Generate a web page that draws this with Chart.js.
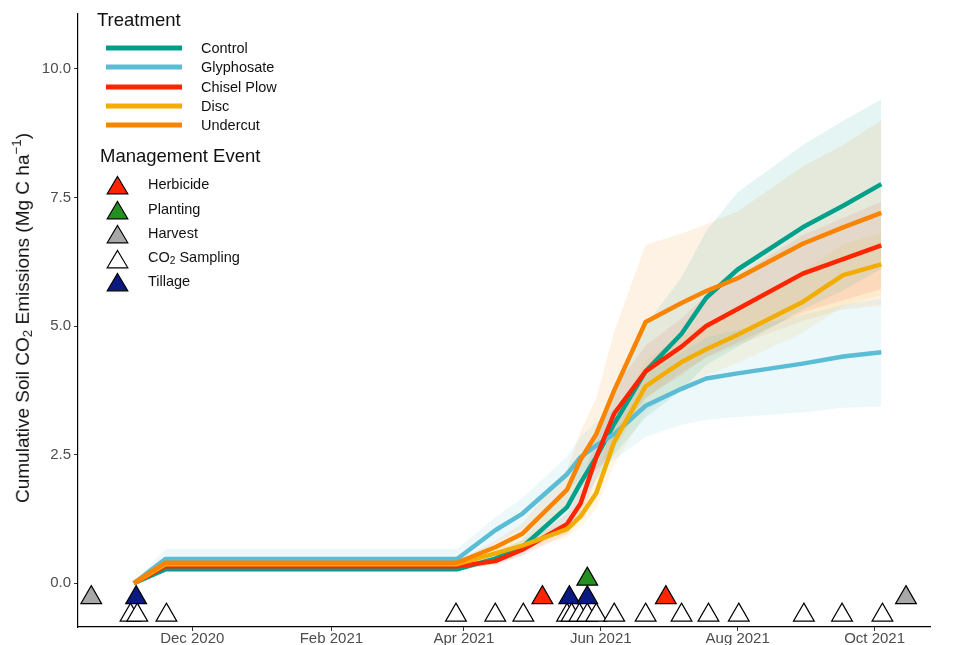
<!DOCTYPE html>
<html lang="en">
<head>
<meta charset="UTF-8">
<title>Cumulative Soil CO2 Emissions</title>
<script src="https://cdn.jsdelivr.net/npm/chart.js"></script>
<style>
  body { margin: 0; background: #fff; font-family: "Liberation Sans", Arial, sans-serif; }
  #wrap { position: relative; width: 957px; height: 645px; }
  .ttl { position: absolute; font-size: 18.5px; color: #111; white-space: nowrap; line-height: 1; transform: translateY(-50%); }
  .lbl { position: absolute; font-size: 14.5px; color: #111; white-space: nowrap; line-height: 1; transform: translateY(-50%); }
  .ln { position: absolute; left: 106px; width: 76px; height: 5px; transform: translateY(-50%); }
  .tri { position: absolute; left: 106px; transform: translateY(-50%); }
  #ytitle { position: absolute; left: 22px; top: 318px; transform: translate(-50%, -50%) rotate(-90deg); font-size: 19px; color: #111; white-space: nowrap; }
  sub { font-size: 70%; vertical-align: -0.25em; }
  sup { font-size: 70%; vertical-align: 0.6em; }
</style>
</head>
<body>
<div id="wrap">
  <canvas id="co2Chart" width="957" height="645"></canvas>
  <div id="ytitle">Cumulative Soil CO<sub>2</sub> Emissions (Mg C ha<sup>&minus;1</sup>)</div>
  <div id="legend"></div>
</div>

<script>
    // sampling days, counted from 1 Dec 2020
    const days = [-26, -12, 118, 135, 147, 167, 173, 180, 188, 202, 218, 229, 243, 272, 290, 307];

    const control   = [0, 0.27, 0.27, 0.48, 0.70, 1.48, 1.95, 2.45, 3.10, 4.12, 4.85, 5.55, 6.10, 6.92, 7.34, 7.76];
    const controlLo = [0, 0.24, 0.24, 0.38, 0.55, 1.18, 1.55, 2.00, 2.50, 3.22, 3.75, 4.25, 4.60, 5.32, 5.69, 6.11];
    const controlHi = [0, 0.30, 0.30, 0.58, 0.85, 1.78, 2.35, 2.90, 3.70, 5.02, 5.95, 6.85, 7.60, 8.52, 8.99, 9.41];

    const glyphosate   = [0, 0.47, 0.47, 1.03, 1.35, 2.12, 2.45, 2.68, 2.90, 3.45, 3.78, 3.98, 4.08, 4.27, 4.41, 4.49];
    const glyphosateLo = [0, 0.27, 0.27, 0.78, 1.05, 1.77, 2.05, 2.23, 2.40, 2.85, 3.08, 3.18, 3.23, 3.32, 3.41, 3.44];
    const glyphosateHi = [0, 0.67, 0.67, 1.28, 1.65, 2.47, 2.85, 3.13, 3.40, 4.05, 4.48, 4.78, 4.93, 5.22, 5.41, 5.54];

    const chisel   = [0, 0.33, 0.33, 0.43, 0.65, 1.15, 1.55, 2.45, 3.30, 4.12, 4.60, 5.00, 5.33, 6.02, 6.30, 6.57];
    const chiselLo = [0, 0.29, 0.29, 0.35, 0.53, 0.95, 1.25, 2.05, 2.80, 3.62, 4.05, 4.40, 4.68, 5.27, 5.50, 5.72];
    const chiselHi = [0, 0.37, 0.37, 0.51, 0.77, 1.35, 1.85, 2.85, 3.80, 4.62, 5.15, 5.60, 5.98, 6.77, 7.10, 7.42];

    const disc   = [0, 0.37, 0.37, 0.58, 0.73, 1.05, 1.30, 1.75, 2.75, 3.83, 4.30, 4.55, 4.83, 5.47, 5.99, 6.20];
    const discLo = [0, 0.33, 0.33, 0.50, 0.63, 0.90, 1.10, 1.45, 2.30, 3.33, 3.80, 4.05, 4.28, 4.87, 5.39, 5.60];
    const discHi = [0, 0.41, 0.41, 0.66, 0.83, 1.20, 1.50, 2.05, 3.20, 4.33, 4.80, 5.05, 5.38, 6.07, 6.59, 6.80];

    const undercut   = [0, 0.40, 0.40, 0.70, 0.96, 1.82, 2.40, 2.90, 3.75, 5.08, 5.45, 5.68, 5.93, 6.60, 6.92, 7.20];
    const undercutLo = [0, 0.36, 0.36, 0.58, 0.76, 1.42, 1.85, 2.20, 2.60, 3.58, 4.10, 4.38, 4.63, 5.10, 5.32, 5.40];
    const undercutHi = [0, 0.44, 0.44, 0.82, 1.16, 2.22, 2.95, 3.60, 4.90, 6.58, 6.80, 6.98, 7.23, 8.10, 8.52, 9.00];

    // management events (day of event)
    const herbicideDays = [156, 211];
    const plantingDays  = [176];
    const harvestDays   = [-45, 318];
    const samplingDays  = [-27.5, -24.5, -11.5, 117.5, 135, 147.5, 167, 169, 172.5, 176, 180, 188, 202, 218, 230, 243.5, 272.5, 289.5, 307.5];
    const tillageDays   = [-25, 168, 176];

    const tickDays   = [0, 62, 121, 182, 243, 304];
    const tickLabels = ['Dec 2020', 'Feb 2021', 'Apr 2021', 'Jun 2021', 'Aug 2021', 'Oct 2021'];
    const yTicks = [0, 2.5, 5, 7.5, 10];

    const treatments = [
        {name: 'Control',     y: control,    lo: controlLo,    hi: controlHi,    color: '#00A08A', fill: 'rgba(0,160,138,0.10)'},
        {name: 'Glyphosate',  y: glyphosate, lo: glyphosateLo, hi: glyphosateHi, color: '#5BBCD6', fill: 'rgba(91,188,214,0.11)'},
        {name: 'Chisel Plow', y: chisel,     lo: chiselLo,     hi: chiselHi,     color: '#FF2500', fill: 'rgba(255,37,0,0.09)'},
        {name: 'Disc',        y: disc,       lo: discLo,       hi: discHi,       color: '#F2AD00', fill: 'rgba(242,173,0,0.10)'},
        {name: 'Undercut',    y: undercut,   lo: undercutLo,   hi: undercutHi,   color: '#F98400', fill: 'rgba(249,132,0,0.10)'}
    ];

    const events = [
        {name: 'Herbicide',   days: herbicideDays, row: -0.28, color: '#FF2500'},
        {name: 'Planting',    days: plantingDays,  row: 0.08,  color: '#23901F'},
        {name: 'Harvest',     days: harvestDays,   row: -0.28, color: '#A8A8A8'},
        {name: 'CO<sub>2</sub> Sampling', days: samplingDays, row: -0.62, color: '#FFFFFF'},
        {name: 'Tillage',     days: tillageDays,   row: -0.28, color: '#0B1A80'}
    ];

    function pts(vals) {
        return days.map((d, i) => ({x: d, y: vals[i]}));
    }

    const datasets = [];

    // ribbons first, drawn at the back
    treatments.forEach(function(t) {
        datasets.push({data: pts(t.lo), borderWidth: 0, pointRadius: 0, fill: false, order: 20});
        datasets.push({data: pts(t.hi), borderWidth: 0, pointRadius: 0, fill: '-1', backgroundColor: t.fill, order: 20});
    });

    // lines, undercut ends on top
    treatments.forEach(function(t, i) {
        datasets.push({
            data: pts(t.y),
            borderColor: t.color,
            borderWidth: 4.5,
            borderJoinStyle: 'round',
            pointRadius: 0,
            fill: false,
            order: 10 - i
        });
    });

    // event triangles
    events.forEach(function(ev) {
        datasets.push({
            data: ev.days.map(d => ({x: d, y: ev.row})),
            showLine: false,
            pointStyle: 'triangle',
            pointRadius: 12,
            pointBackgroundColor: ev.color,
            pointBorderColor: '#000',
            pointBorderWidth: 1.2,
            clip: false,
            order: 0
        });
    });

    const ctx = document.getElementById('co2Chart').getContext('2d');
    new Chart(ctx, {
        type: 'line',
        data: {datasets: datasets},
        options: {
            responsive: false,
            animation: false,
            events: [],
            layout: {padding: {top: 10, right: 27, left: 0, bottom: 0}},
            plugins: {legend: {display: false}, tooltip: {enabled: false}},
            scales: {
                x: {
                    type: 'linear',
                    min: -50.9,
                    max: 328.7,
                    afterBuildTicks: function(scale) {
                        scale.ticks = tickDays.map(v => ({value: v}));
                    },
                    afterFit: function(scale) { scale.height = 18; },
                    ticks: {
                        autoSkip: false,
                        maxRotation: 0,
                        padding: -1,
                        color: '#4D4D4D',
                        font: {family: 'Liberation Sans', size: 15},
                        callback: function(v, i) { return tickLabels[i]; }
                    },
                    grid: {drawOnChartArea: false, drawTicks: true, tickLength: 4, tickColor: '#333'},
                    border: {display: true, color: '#000', width: 1.2}
                },
                y: {
                    type: 'linear',
                    min: -0.851,
                    max: 11.083,
                    afterBuildTicks: function(scale) {
                        scale.ticks = yTicks.map(v => ({value: v}));
                    },
                    afterFit: function(scale) { scale.width = 78; },
                    ticks: {
                        padding: 3,
                        color: '#4D4D4D',
                        font: {family: 'Liberation Sans', size: 15},
                        callback: function(v) { return v.toFixed(1); }
                    },
                    grid: {drawOnChartArea: false, drawTicks: true, tickLength: 4, tickColor: '#333'},
                    border: {display: true, color: '#000', width: 1.2}
                }
            }
        }
    });

    // legend, two groups like the original
    const legend = document.getElementById('legend');
    let html = '<div class="ttl" style="left:97px; top:20px;">Treatment</div>';
    const lineRows = [47.5, 67, 86.5, 106, 125];
    treatments.forEach(function(t, i) {
        html += '<div class="ln" style="top:' + lineRows[i] + 'px; background:' + t.color + ';"></div>';
        html += '<div class="lbl" style="left:201px; top:' + lineRows[i] + 'px;">' + t.name + '</div>';
    });
    html += '<div class="ttl" style="left:100px; top:156px;">Management Event</div>';
    const triRows = [184, 209, 232.5, 257.5, 281];
    events.forEach(function(ev, i) {
        html += '<svg class="tri" width="23" height="20" style="top:' + (triRows[i] + 1) + 'px;">' +
                '<polygon points="11.5,1.5 21.8,18.8 1.2,18.8" fill="' + ev.color + '" stroke="#000" stroke-width="1.2"/></svg>';
        html += '<div class="lbl" style="left:148px; top:' + triRows[i] + 'px;">' + ev.name + '</div>';
    });
    legend.innerHTML = html;
</script>
</body>
</html>
